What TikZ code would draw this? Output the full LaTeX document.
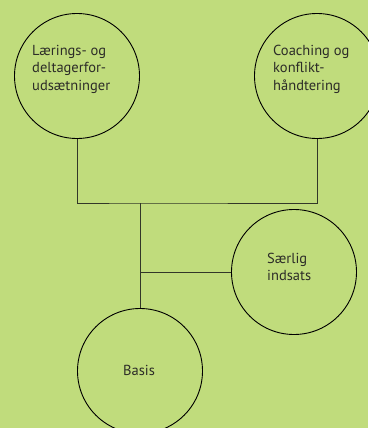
\documentclass[tikz,border=0pt]{standalone}
\usepackage{fontspec}
\setmainfont{PT Sans}
\usetikzlibrary{calc}
\definecolor{bg}{RGB}{192,220,124}
\definecolor{txtc}{RGB}{45,45,40}
\definecolor{linec}{RGB}{50,55,40}
\begin{document}
\begin{tikzpicture}[x=1pt,y=1pt,
  bubble/.style={circle,draw=black,line width=0.9pt,minimum size=125pt,inner sep=0pt},
  txt/.style={text=txtc,font=\fontsize{14.5}{17.3}\selectfont,align=left,inner sep=0pt},
  conn/.style={draw=linec,line width=1pt}]
\fill[bg] (0,0) rectangle (368,-428);
\useasboundingbox (0,0) rectangle (368,-428);
\node[bubble] (L) at (77,-76) {};
\node[bubble] (C) at (317,-76) {};
\node[bubble] (S) at (294,-272) {};
\node[bubble] (B) at (140,-371) {};
\node[txt,anchor=north west] (Lt) at (32,-45) {Lærings- og\\deltagerfor-\\udsætninger};
\node[txt,anchor=north west] (Ct) at (273,-45) {Coaching og\\konflikt-\\håndtering};
\node[txt,anchor=north west] (St) at (267,-253) {Særlig\\indsats};
\node[txt] (Bt) at (139,-370) {Basis};
\coordinate (J) at (140,-203);
\coordinate (K) at (140,-272);
\draw[conn] (L.south) |- (J) -| (C.south);
\draw[conn] (J) -- (B.north);
\draw[conn] (K) -- (S.west);
\end{tikzpicture}
\end{document}
